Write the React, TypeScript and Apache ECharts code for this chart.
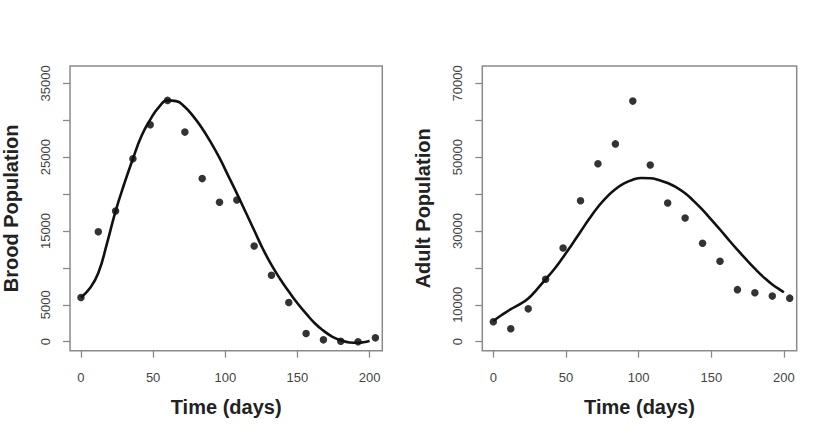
import React, { useEffect, useRef } from "react";
import * as echarts from "echarts";

// Observed data (sampling days)
const obsDays = [0, 12, 24, 36, 48, 60, 72, 84, 96, 108, 120, 132, 144, 156, 168, 180, 192, 204];
const broodObs = [6000, 14900, 17700, 24800, 29400, 32700, 28400, 22100, 18900, 19200, 12960, 9000, 5300, 1100, 250, 50, 0, 520];
const adultObs = [5400, 3500, 8900, 16900, 25400, 38200, 48200, 53600, 65200, 47900, 37600, 33500, 26700, 21800, 14100, 13250, 12350, 11800];

// Fitted model curves
const fitDays = [0, 6, 12, 18, 24, 30, 36, 42, 48, 54, 60, 66, 72, 78, 84, 90, 96, 102, 108, 114, 120, 126, 132, 138, 144, 150, 156, 162, 168, 174, 180, 186, 192, 198, 200];
const broodFit = [6000, 7200, 9300, 13300, 17700, 21400, 24800, 27900, 30100, 31800, 32700, 32600, 31800, 30500, 28900, 27000, 24900, 22500, 20100, 17600, 15100, 12600, 10400, 8500, 6800, 5200, 3800, 2500, 1500, 700, 200, -100, -150, 0, 80];
const adultFit = [5600, 7300, 8800, 10100, 11700, 14200, 16900, 19700, 22900, 26300, 29800, 33300, 36500, 39200, 41300, 42900, 43900, 44350, 44300, 43800, 43000, 41800, 40200, 38100, 35700, 33100, 30400, 27600, 24900, 22300, 19800, 17500, 15500, 13900, 13400];

// Tick values
const xTicks = [0, 50, 100, 150, 200];
const broodTicks = [0, 5000, 10000, 15000, 20000, 25000, 30000, 35000];
const broodLabels = [0, 5000, 15000, 25000, 35000];
const adultTicks = [0, 10000, 20000, 30000, 40000, 50000, 60000, 70000];
const adultLabels = [0, 10000, 30000, 50000, 70000];

const xTitle = "Time (days)";
const broodTitle = "Brood Population";
const adultTitle = "Adult Population";

const FONT = "'Liberation Sans', Arial, Helvetica, sans-serif";
const BOX = "#8a8a8a";

function zip(xs: number[], ys: number[]) {
  return ys.map((y, i) => [xs[i], y]);
}

export default function App() {
  const ref = useRef<HTMLDivElement>(null);
  useEffect(() => {
    if (!ref.current) return;
    const chart = echarts.init(ref.current, null, { renderer: "svg" });
    const xAxisBase = (gridIndex: number) => ({
      type: "value",
      gridIndex,
      min: -7.6,
      max: 208.8,
      splitLine: { show: false },
      axisLine: { show: false, onZero: false },
      axisTick: { show: true, length: 7, lineStyle: { color: BOX, width: 1.3 }, customValues: xTicks },
      axisLabel: { fontFamily: FONT, fontSize: 13, color: "#444", margin: 20, customValues: xTicks, formatter: (v: number) => String(v) },
      name: xTitle,
      nameLocation: "middle",
      nameGap: 46,
      nameTextStyle: { fontFamily: FONT, fontSize: 20, fontWeight: "bold", color: "#222" },
    });
    const yAxisBase = (gridIndex: number, min: number, max: number, ticks: number[], labels: number[], title: string) => ({
      type: "value",
      gridIndex,
      min,
      max,
      splitLine: { show: false },
      axisLine: { show: false, onZero: false },
      axisTick: { show: true, length: 7, lineStyle: { color: BOX, width: 1.3 }, customValues: ticks },
      axisLabel: { fontFamily: FONT, fontSize: 13, color: "#444", margin: 18, rotate: 90, customValues: labels, formatter: (v: number) => String(v) },
      name: title,
      nameLocation: "middle",
      nameGap: 49,
      nameTextStyle: { fontFamily: FONT, fontSize: 20, fontWeight: "bold", color: "#222" },
    });
    chart.setOption({
      animation: false,
      backgroundColor: "#ffffff",
      grid: [
        { left: 67.3, top: 66, width: 315, height: 284.7, show: true, borderColor: BOX, borderWidth: 1.5, backgroundColor: "transparent" },
        { left: 482.3, top: 66, width: 314.4, height: 284.7, show: true, borderColor: BOX, borderWidth: 1.5, backgroundColor: "transparent" },
      ],
      xAxis: [xAxisBase(0), xAxisBase(1)],
      yAxis: [
        yAxisBase(0, -1220, 37360, broodTicks, broodLabels, broodTitle),
        yAxisBase(1, -2440, 74710, adultTicks, adultLabels, adultTitle),
      ],
      series: [
        { type: "line", xAxisIndex: 0, yAxisIndex: 0, data: zip(fitDays, broodFit), smooth: 0.5, showSymbol: false, lineStyle: { color: "#111", width: 2.6 } },
        { type: "scatter", xAxisIndex: 0, yAxisIndex: 0, data: zip(obsDays, broodObs), symbolSize: 7.5, itemStyle: { color: "#000" } },
        { type: "line", xAxisIndex: 1, yAxisIndex: 1, data: zip(fitDays, adultFit), smooth: 0.5, showSymbol: false, lineStyle: { color: "#111", width: 2.6 } },
        { type: "scatter", xAxisIndex: 1, yAxisIndex: 1, data: zip(obsDays, adultObs), symbolSize: 7.5, itemStyle: { color: "#000" } },
      ],
    });
    return () => chart.dispose();
  }, []);
  return (
    <div
      ref={ref}
      style={{ position: "absolute", left: 0, top: 0, width: 830, height: 435, background: "#fff" }}
    />
  );
}
